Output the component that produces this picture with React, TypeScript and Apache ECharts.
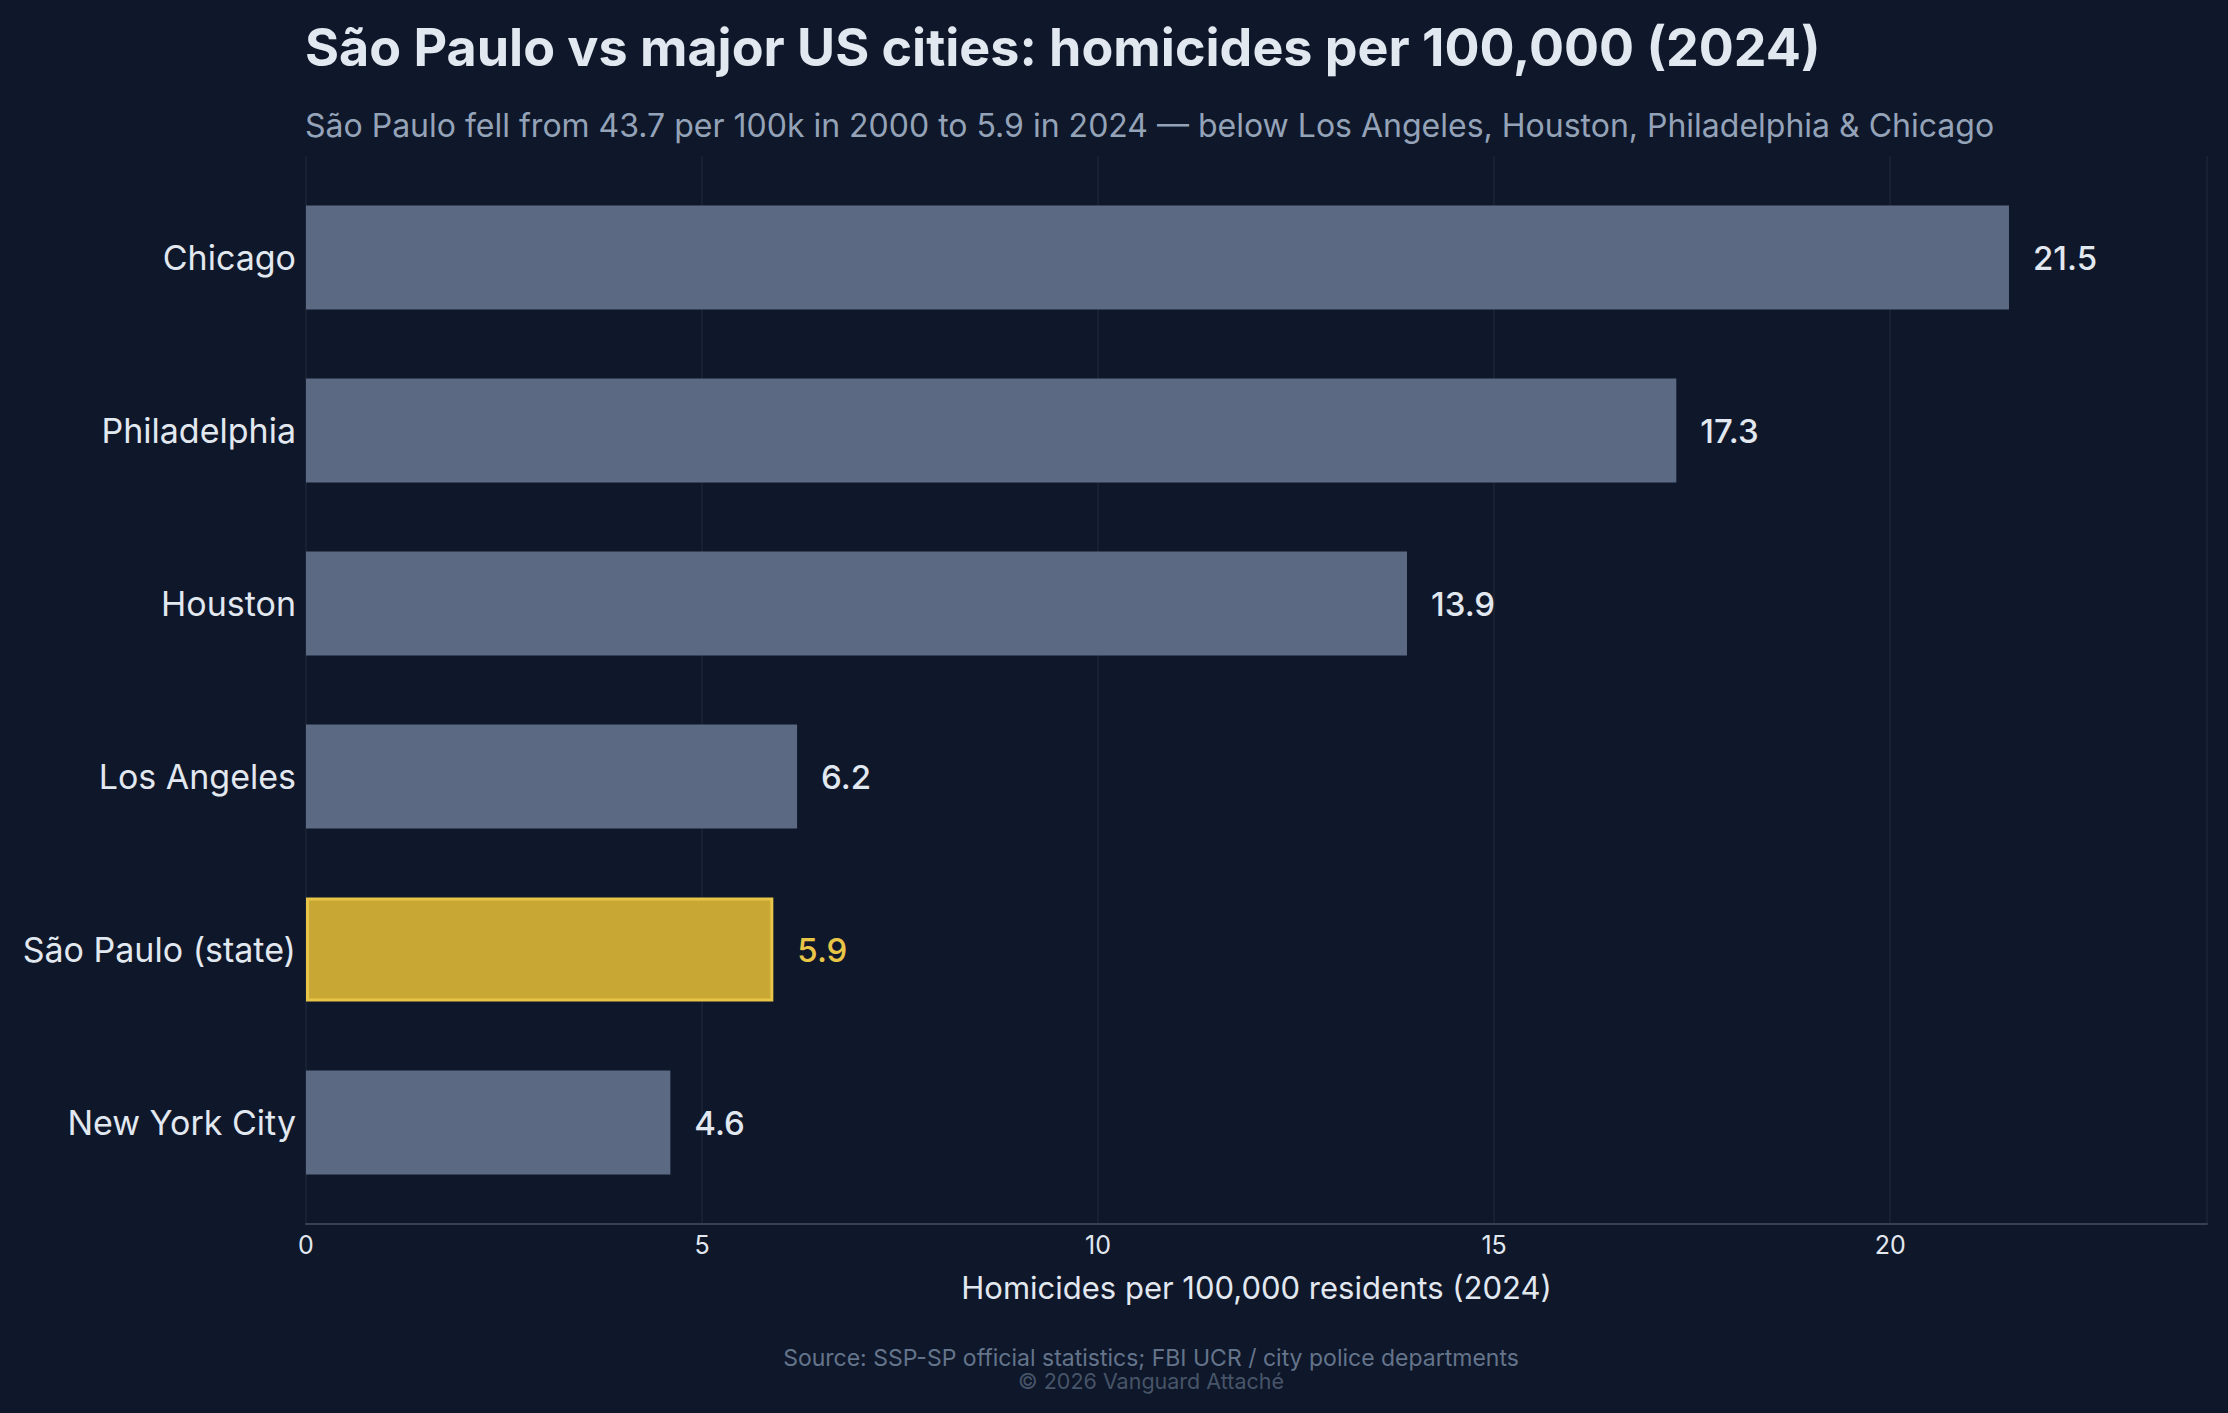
import React, { useEffect, useRef } from "react";
import * as echarts from "echarts";

// Homicide rates per 100,000 residents, 2024
const cities = ["Chicago", "Philadelphia", "Houston", "Los Angeles", "São Paulo (state)", "New York City"];
const rates = [21.5, 17.3, 13.9, 6.2, 5.9, 4.6];
const highlightCity = "São Paulo (state)";
const xTicks = [0, 5, 10, 15, 20];

const TITLE = "São Paulo vs major US cities: homicides per 100,000 (2024)";
const SUBTITLE =
  "São Paulo fell from 43.7 per 100k in 2000 to 5.9 in 2024 — below Los Angeles, Houston, Philadelphia & Chicago";
const X_NAME = "Homicides per 100,000 residents (2024)";
const SOURCE = "Source: SSP-SP official statistics; FBI UCR / city police departments";
const COPYRIGHT = "© 2026 Vanguard Attaché";

const BG = "#0f172a";
const BAR = "#5b6a82";
const GOLD_FILL = "#c9a735";
const GOLD_EDGE = "#e8c547";
const TEXT = "#e2e8f0";
const FONT = "Inter";

export default function App() {
  const ref = useRef<HTMLDivElement>(null);

  useEffect(() => {
    if (!ref.current) return;
    const chart = echarts.init(ref.current, undefined, { renderer: "svg" });

    const seriesData = cities.map((c, i) => {
      const hi = c === highlightCity;
      return {
        value: rates[i],
        itemStyle: hi
          ? { color: GOLD_FILL, borderColor: GOLD_EDGE, borderWidth: 3 }
          : { color: BAR },
        label: hi ? { color: GOLD_EDGE } : undefined,
      };
    });

    chart.setOption({
      animation: false,
      backgroundColor: BG,
      textStyle: { fontFamily: FONT },
      title: [
        {
          text: TITLE,
          left: 300,
          top: 16,
          textStyle: { color: TEXT, fontSize: 52, fontWeight: 700, fontFamily: FONT },
        },
        {
          text: SUBTITLE,
          left: 300,
          top: 104,
          textStyle: { color: "#94a3b8", fontSize: 32, fontWeight: 400, fontFamily: FONT },
        },
        {
          text: SOURCE,
          left: 1146,
          textAlign: "center",
          top: 1341,
          textStyle: { color: "#64748b", fontSize: 23, fontWeight: 400, fontFamily: FONT },
        },
        {
          text: COPYRIGHT,
          left: 1146,
          textAlign: "center",
          top: 1365,
          textStyle: { color: "#475569", fontSize: 21.5, fontWeight: 400, fontFamily: FONT },
        },
      ],
      grid: [
        // axis frame: gridlines, baseline, ticks
        { left: 306, right: 21, top: 156, bottom: 1413 - 1224 },
        // bars
        { left: 306, right: 21, top: 171, bottom: 1413 - 1209 },
      ],
      xAxis: [
        {
          gridIndex: 0,
          type: "value",
          min: 0,
          max: 24,
          interval: 5,
          axisLine: { show: true, lineStyle: { color: "#364152", width: 2 } },
          axisTick: { show: false },
          splitLine: { show: true, lineStyle: { color: "#1c2639", width: 1.5 } },
          axisLabel: {
            color: TEXT,
            fontSize: 25,
            fontFamily: FONT,
            margin: 8,
            formatter: (v: number) => (xTicks.includes(v) ? String(v) : ""),
          },
          name: X_NAME,
          nameLocation: "middle",
          nameGap: 48,
          nameTextStyle: { color: TEXT, fontSize: 31, fontFamily: FONT },
        },
        {
          gridIndex: 1,
          type: "value",
          min: 0,
          max: 24,
          show: false,
        },
      ],
      yAxis: [
        {
          gridIndex: 0,
          type: "value",
          show: false,
        },
        {
          gridIndex: 1,
          type: "category",
          data: cities,
          inverse: true,
          axisLine: { show: false },
          axisTick: { show: false },
          splitLine: { show: false },
          axisLabel: { color: TEXT, fontSize: 34, fontFamily: FONT, margin: 10 },
        },
      ],
      series: [
        {
          type: "bar",
          xAxisIndex: 1,
          yAxisIndex: 1,
          data: seriesData,
          barWidth: "60%",
          label: {
            show: true,
            position: "right",
            distance: 24,
            color: TEXT,
            fontSize: 33,
            fontWeight: 500,
            fontFamily: FONT,
            formatter: (p: any) => p.value.toFixed(1),
          },
        },
      ],
    });

    return () => chart.dispose();
  }, []);

  return (
    <div
      ref={ref}
      style={{ position: "fixed", left: 0, top: 0, width: 2228, height: 1413 }}
    />
  );
}
